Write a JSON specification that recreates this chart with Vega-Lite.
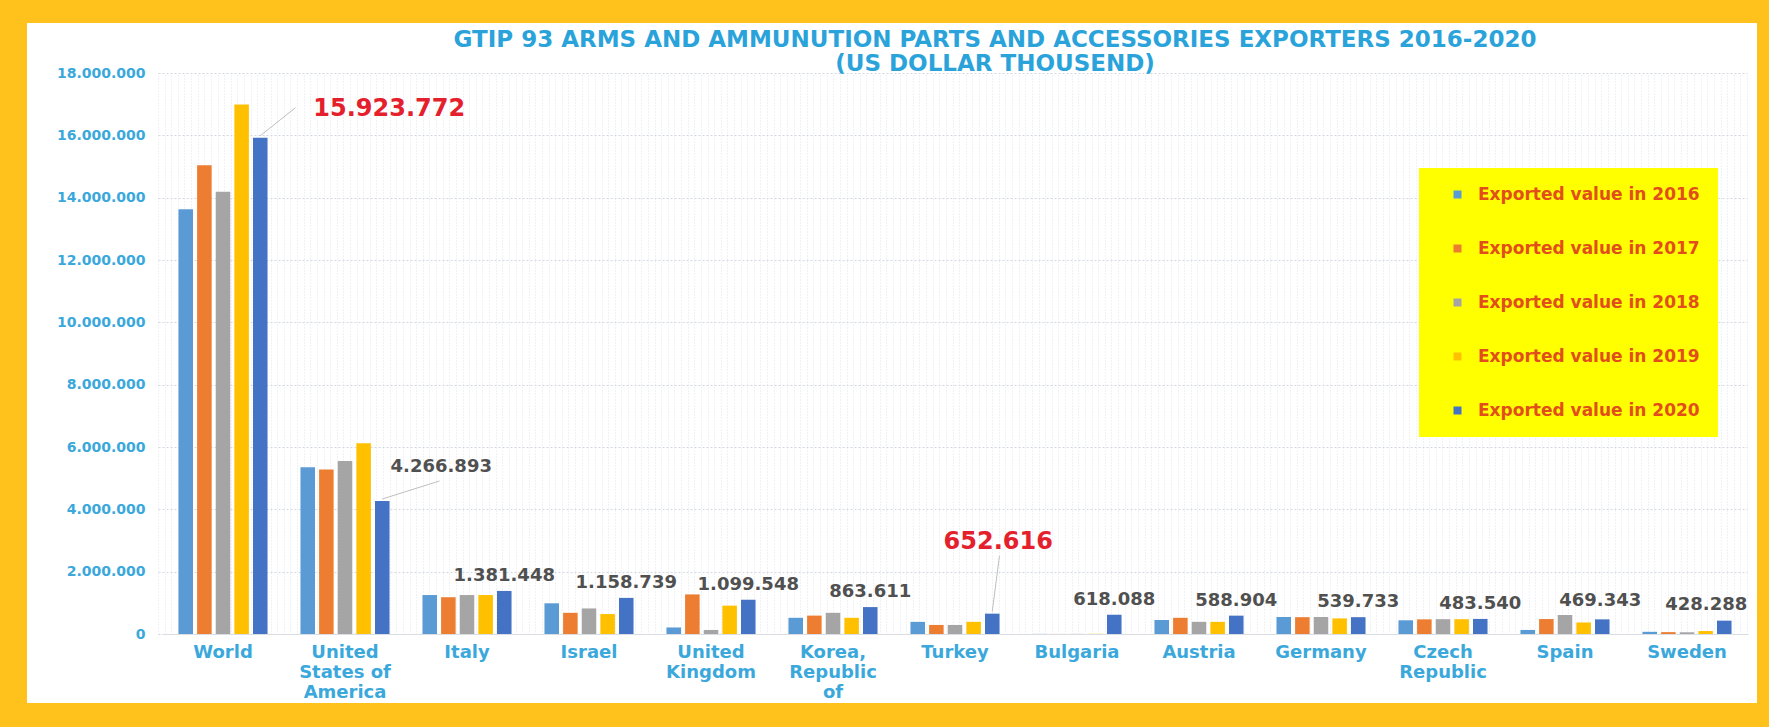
{
  "$schema": "https://vega.github.io/schema/vega-lite/v6.json",
  "width": 1730,
  "height": 680,
  "autosize": {"type": "none"},
  "padding": {"left": 27, "top": 23, "right": 12, "bottom": 24},
  "background": "#FFC21D",
  "config": {
    "view": {"fill": "#FFFFFF", "stroke": null},
    "locale": {"number": {"decimal": ",", "thousands": ".", "grouping": [3], "currency": ["", ""]}},
    "font": "DejaVu Sans"
  },
  "title": {
    "text": ["GTIP 93 ARMS AND AMMUNUTION PARTS AND ACCESSORIES EXPORTERS 2016-2020", "(US DOLLAR THOUSEND)"],
    "font": "DejaVu Sans",
    "fontSize": 23,
    "fontWeight": "bold",
    "color": "#2AA3DB",
    "anchor": "middle",
    "orient": "top",
    "frame": "group",
    "offset": 0,
    "dx": 103,
    "dy": 76,
    "lineHeight": 24,
    "baseline": "bottom"
  },
  "data": {
    "values": [
      {"country": "World", "series": "Exported value in 2016", "value": 13630000},
      {"country": "World", "series": "Exported value in 2017", "value": 15040000},
      {"country": "World", "series": "Exported value in 2018", "value": 14190000},
      {"country": "World", "series": "Exported value in 2019", "value": 16990000},
      {"country": "World", "series": "Exported value in 2020", "value": 15923772},
      {"country": "United States of America", "series": "Exported value in 2016", "value": 5350000},
      {"country": "United States of America", "series": "Exported value in 2017", "value": 5280000},
      {"country": "United States of America", "series": "Exported value in 2018", "value": 5550000},
      {"country": "United States of America", "series": "Exported value in 2019", "value": 6120000},
      {"country": "United States of America", "series": "Exported value in 2020", "value": 4266893},
      {"country": "Italy", "series": "Exported value in 2016", "value": 1250000},
      {"country": "Italy", "series": "Exported value in 2017", "value": 1180000},
      {"country": "Italy", "series": "Exported value in 2018", "value": 1250000},
      {"country": "Italy", "series": "Exported value in 2019", "value": 1250000},
      {"country": "Italy", "series": "Exported value in 2020", "value": 1381448},
      {"country": "Israel", "series": "Exported value in 2016", "value": 985000},
      {"country": "Israel", "series": "Exported value in 2017", "value": 680000},
      {"country": "Israel", "series": "Exported value in 2018", "value": 820000},
      {"country": "Israel", "series": "Exported value in 2019", "value": 640000},
      {"country": "Israel", "series": "Exported value in 2020", "value": 1158739},
      {"country": "United Kingdom", "series": "Exported value in 2016", "value": 210000},
      {"country": "United Kingdom", "series": "Exported value in 2017", "value": 1270000},
      {"country": "United Kingdom", "series": "Exported value in 2018", "value": 130000},
      {"country": "United Kingdom", "series": "Exported value in 2019", "value": 910000},
      {"country": "United Kingdom", "series": "Exported value in 2020", "value": 1099548},
      {"country": "Korea, Republic of", "series": "Exported value in 2016", "value": 520000},
      {"country": "Korea, Republic of", "series": "Exported value in 2017", "value": 590000},
      {"country": "Korea, Republic of", "series": "Exported value in 2018", "value": 680000},
      {"country": "Korea, Republic of", "series": "Exported value in 2019", "value": 520000},
      {"country": "Korea, Republic of", "series": "Exported value in 2020", "value": 863611},
      {"country": "Turkey", "series": "Exported value in 2016", "value": 390000},
      {"country": "Turkey", "series": "Exported value in 2017", "value": 290000},
      {"country": "Turkey", "series": "Exported value in 2018", "value": 290000},
      {"country": "Turkey", "series": "Exported value in 2019", "value": 390000},
      {"country": "Turkey", "series": "Exported value in 2020", "value": 652616},
      {"country": "Bulgaria", "series": "Exported value in 2016", "value": 3000},
      {"country": "Bulgaria", "series": "Exported value in 2017", "value": 2000},
      {"country": "Bulgaria", "series": "Exported value in 2018", "value": 4000},
      {"country": "Bulgaria", "series": "Exported value in 2019", "value": 6000},
      {"country": "Bulgaria", "series": "Exported value in 2020", "value": 618088},
      {"country": "Austria", "series": "Exported value in 2016", "value": 450000},
      {"country": "Austria", "series": "Exported value in 2017", "value": 520000},
      {"country": "Austria", "series": "Exported value in 2018", "value": 390000},
      {"country": "Austria", "series": "Exported value in 2019", "value": 390000},
      {"country": "Austria", "series": "Exported value in 2020", "value": 588904},
      {"country": "Germany", "series": "Exported value in 2016", "value": 545000},
      {"country": "Germany", "series": "Exported value in 2017", "value": 540000},
      {"country": "Germany", "series": "Exported value in 2018", "value": 545000},
      {"country": "Germany", "series": "Exported value in 2019", "value": 500000},
      {"country": "Germany", "series": "Exported value in 2020", "value": 539733},
      {"country": "Czech Republic", "series": "Exported value in 2016", "value": 440000},
      {"country": "Czech Republic", "series": "Exported value in 2017", "value": 470000},
      {"country": "Czech Republic", "series": "Exported value in 2018", "value": 475000},
      {"country": "Czech Republic", "series": "Exported value in 2019", "value": 475000},
      {"country": "Czech Republic", "series": "Exported value in 2020", "value": 483540},
      {"country": "Spain", "series": "Exported value in 2016", "value": 130000},
      {"country": "Spain", "series": "Exported value in 2017", "value": 480000},
      {"country": "Spain", "series": "Exported value in 2018", "value": 610000},
      {"country": "Spain", "series": "Exported value in 2019", "value": 370000},
      {"country": "Spain", "series": "Exported value in 2020", "value": 469343},
      {"country": "Sweden", "series": "Exported value in 2016", "value": 70000},
      {"country": "Sweden", "series": "Exported value in 2017", "value": 60000},
      {"country": "Sweden", "series": "Exported value in 2018", "value": 55000},
      {"country": "Sweden", "series": "Exported value in 2019", "value": 95000},
      {"country": "Sweden", "series": "Exported value in 2020", "value": 428288}
    ]
  },
  "resolve": {"scale": {"x": "independent"}, "axis": {"x": "independent"}},
  "encoding": {
    "y": {
      "field": "value",
      "type": "quantitative",
      "scale": {"domain": [0, 18000000], "range": [611, 50], "nice": false, "zero": true},
      "axis": {
        "orient": "left",
        "offset": -135,
        "title": null,
        "values": [0, 2000000, 4000000, 6000000, 8000000, 10000000, 12000000, 14000000, 16000000, 18000000],
        "format": ",d",
        "labelFont": "DejaVu Sans",
        "labelFontSize": 14,
        "labelFontWeight": "bold",
        "labelColor": "#3BA8DC",
        "labelPadding": 17,
        "ticks": false,
        "tickSize": 0,
        "domain": false,
        "grid": true,
        "gridColor": "#D3D7DF",
        "gridDash": [2, 2]
      }
    }
  },
  "layer": [
    {
      "mark": {"type": "point", "opacity": 0},
      "encoding": {
        "x": {
          "datum": 0,
          "type": "quantitative",
          "scale": {"domain": [0, 240], "range": [131, 1720], "nice": false, "zero": false},
          "axis": {"orient": "top", "title": null, "labels": false, "ticks": false, "domain": false, "grid": true, "tickCount": 240, "gridColor": "#E2E5EB", "gridDash": [1, 2], "gridWidth": 1}
        }
      }
    },
    {
      "encoding": {
        "x": {
          "field": "country",
          "type": "nominal",
          "sort": null,
          "scale": {"range": [135, 1721], "paddingInner": 0.27, "paddingOuter": 0.135},
          "axis": {
            "orient": "bottom",
            "offset": -69,
            "title": null,
            "labelAngle": 0,
            "labelExpr": "datum.value == 'United States of America' ? ['United', 'States of', 'America'] : datum.value == 'United Kingdom' ? ['United', 'Kingdom'] : datum.value == 'Korea, Republic of' ? ['Korea,', 'Republic', 'of'] : datum.value == 'Czech Republic' ? ['Czech', 'Republic'] : datum.label",
            "labelFont": "DejaVu Sans",
            "labelFontSize": 18,
            "labelFontWeight": "bold",
            "labelColor": "#3BA8DC",
            "labelPadding": 9,
            "labelLineHeight": 20,
            "labelBaseline": "top",
            "labelLimit": 300,
            "ticks": false,
            "tickSize": 0,
            "domain": true,
            "domainColor": "#DADDE3",
            "grid": false
          }
        },
        "xOffset": {"field": "series", "type": "nominal", "scale": {"paddingInner": 0.22}}
      },
      "layer": [
        {
          "mark": {"type": "bar"},
          "encoding": {
            "color": {
              "field": "series",
              "type": "nominal",
              "scale": {"range": ["#5B9BD5", "#ED7D31", "#A5A5A5", "#FFC000", "#4472C4"]},
              "legend": {
                "orient": "none",
                "legendX": 1392,
                "legendY": 145,
                "title": null,
                "fillColor": "#FFFF00",
                "padding": 18,
                "rowPadding": 36,
                "symbolType": "square",
                "symbolSize": 64,
                "symbolStrokeWidth": 0,
                "symbolOffset": 12,
                "labelFont": "DejaVu Sans",
                "labelFontSize": 17,
                "labelFontWeight": "bold",
                "labelColor": "#E24E1B",
                "labelOffset": 12,
                "labelLimit": 400
              }
            }
          }
        },
        {
          "transform": [{"filter": "datum.series == 'Exported value in 2020' && datum.country == 'World'"}],
          "mark": {"type": "rule", "color": "#BFBFBF", "strokeWidth": 1, "x2Offset": 117, "yOffset": -2, "y2Offset": -30},
          "encoding": {"x2": {"field": "country", "bandPosition": 0}, "y2": {"field": "value"}}
        },
        {
          "transform": [{"filter": "datum.series == 'Exported value in 2020' && datum.country == 'United States of America'"}],
          "mark": {"type": "rule", "color": "#BFBFBF", "strokeWidth": 1, "x2Offset": 139, "yOffset": -2, "y2Offset": -20},
          "encoding": {"x2": {"field": "country", "bandPosition": 0}, "y2": {"field": "value"}}
        },
        {
          "transform": [{"filter": "datum.series == 'Exported value in 2020' && datum.country == 'Turkey'"}],
          "mark": {"type": "rule", "color": "#BFBFBF", "strokeWidth": 1, "x2Offset": 89, "yOffset": -2, "y2Offset": -58},
          "encoding": {"x2": {"field": "country", "bandPosition": 0}, "y2": {"field": "value"}}
        },
        {
          "transform": [{"filter": "datum.series == 'Exported value in 2020' && indexof(['Italy', 'Israel', 'United Kingdom', 'Korea, Republic of', 'Bulgaria', 'Austria', 'Germany', 'Czech Republic'], datum.country) >= 0"}],
          "mark": {"type": "text", "font": "DejaVu Sans", "fontSize": 18, "fontWeight": "bold", "color": "#505050", "align": "center", "baseline": "middle", "dy": -15},
          "encoding": {"text": {"field": "value", "type": "quantitative", "format": ",d"}}
        },
        {
          "transform": [{"filter": "datum.series == 'Exported value in 2020' && datum.country == 'Spain'"}],
          "mark": {"type": "text", "font": "DejaVu Sans", "fontSize": 18, "fontWeight": "bold", "color": "#505050", "align": "center", "baseline": "middle", "dx": -2, "dy": -18},
          "encoding": {"text": {"field": "value", "type": "quantitative", "format": ",d"}}
        },
        {
          "transform": [{"filter": "datum.series == 'Exported value in 2020' && datum.country == 'Sweden'"}],
          "mark": {"type": "text", "font": "DejaVu Sans", "fontSize": 18, "fontWeight": "bold", "color": "#505050", "align": "center", "baseline": "middle", "dx": -18, "dy": -16},
          "encoding": {"text": {"field": "value", "type": "quantitative", "format": ",d"}}
        },
        {
          "transform": [{"filter": "datum.series == 'Exported value in 2020' && datum.country == 'United States of America'"}],
          "mark": {"type": "text", "font": "DejaVu Sans", "fontSize": 18, "fontWeight": "bold", "color": "#505050", "align": "center", "baseline": "middle", "dx": 59, "dy": -34},
          "encoding": {"text": {"field": "value", "type": "quantitative", "format": ",d"}}
        },
        {
          "transform": [{"filter": "datum.series == 'Exported value in 2020' && datum.country == 'World'"}],
          "mark": {"type": "text", "font": "DejaVu Sans", "fontSize": 24, "fontWeight": "bold", "color": "#E4202C", "align": "center", "baseline": "middle", "dx": 129, "dy": -29},
          "encoding": {"text": {"field": "value", "type": "quantitative", "format": ",d"}}
        },
        {
          "transform": [{"filter": "datum.series == 'Exported value in 2020' && datum.country == 'Turkey'"}],
          "mark": {"type": "text", "font": "DejaVu Sans", "fontSize": 24, "fontWeight": "bold", "color": "#E4202C", "align": "center", "baseline": "middle", "dx": 6, "dy": -72},
          "encoding": {"text": {"field": "value", "type": "quantitative", "format": ",d"}}
        }
      ]
    }
  ]
}
